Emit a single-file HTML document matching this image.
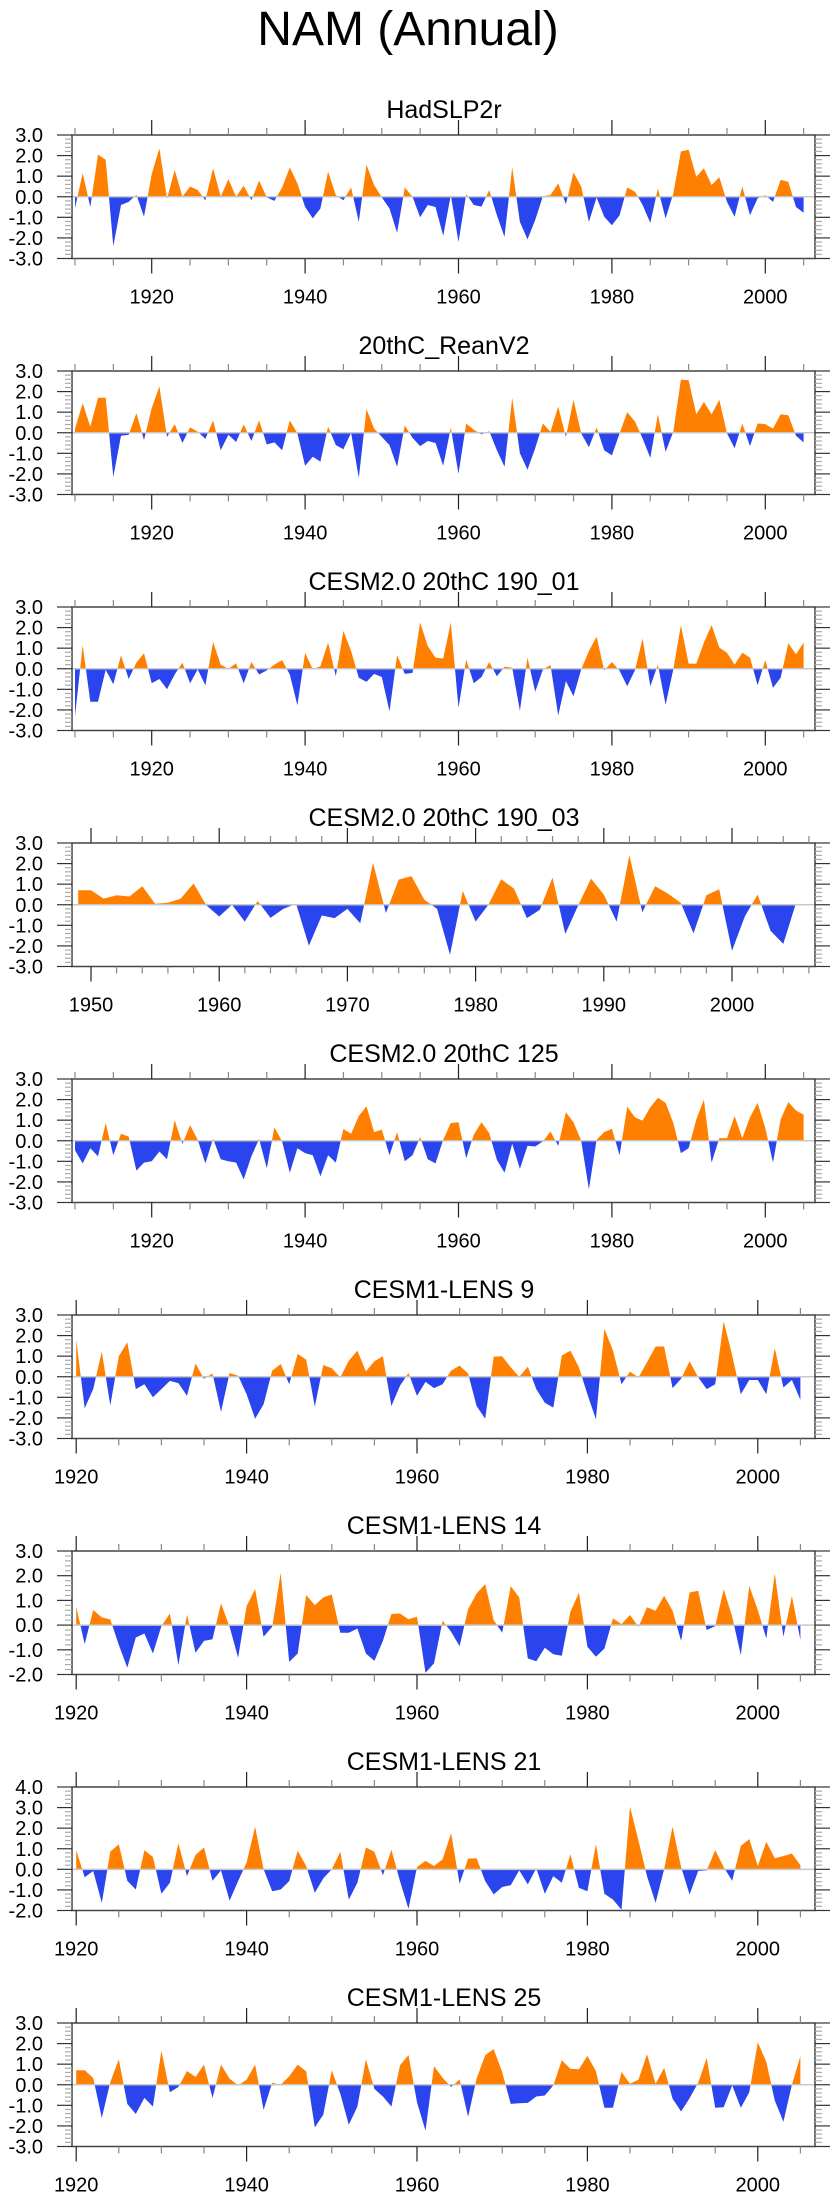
<!DOCTYPE html>
<html><head><meta charset="utf-8"><style>
html,body{margin:0;padding:0;background:#fff;}
svg{display:block;font-family:"Liberation Sans",sans-serif;}
</style></head>
<body>
<svg id="chart" width="840" height="2200" viewBox="0 0 840 2200" xmlns="http://www.w3.org/2000/svg">
<text x="408" y="45" text-anchor="middle" font-size="48" fill="#000">NAM (Annual)</text>
</svg>
<script>
const panelTitles = ["HadSLP2r","20thC_ReanV2","CESM2.0 20thC 190_01","CESM2.0 20thC 190_03","CESM2.0 20thC 125","CESM1-LENS 9","CESM1-LENS 14","CESM1-LENS 21","CESM1-LENS 25"];
const startYears = [1910,1910,1910,1949,1910,1920,1920,1920,1920];
const yMins = [-3,-3,-3,-3,-3,-3,-2,-2,-3];
const yMaxs = [3,3,3,3,3,3,3,4,3];
const hadslp2r = [-0.55,1.15,-0.5,2.05,1.8,-2.4,-0.4,-0.25,0.1,-0.97,1.1,2.35,-0.1,1.3,0,0.5,0.33,-0.17,1.38,0,0.85,0,0.53,-0.17,0.78,-0.03,-0.2,0.45,1.42,0.65,-0.5,-1.05,-0.57,1.22,0.08,-0.17,0.45,-1.22,1.55,0.57,-0.03,-0.57,-1.75,0.45,0,-1.0,-0.4,-0.5,-1.9,0.08,-2.2,0.13,-0.4,-0.48,0.33,-0.9,-1.95,1.43,-1.22,-2.07,-1.13,0.03,0.08,0.65,-0.36,1.18,0.5,-1.22,-0.03,-0.97,-1.38,-0.9,0.45,0.25,-0.4,-1.27,0.4,-1.05,0.16,2.2,2.28,0.97,1.38,0.57,0.95,-0.25,-0.97,0.5,-0.9,-0.08,0.08,-0.25,0.82,0.73,-0.5,-0.78];
const reanV2 = [0.2,1.43,0.3,1.7,1.7,-2.15,-0.15,-0.1,0.95,-0.35,1.2,2.25,-0.2,0.42,-0.5,0.26,0.05,-0.3,0.6,-0.85,-0.1,-0.45,0.4,-0.4,0.6,-0.57,-0.47,-0.85,0.6,-0.03,-1.6,-1.17,-1.4,0.3,-0.6,-0.8,0,-2.2,1.15,0.2,-0.2,-0.6,-1.65,0.35,-0.25,-0.65,-0.4,-0.5,-1.6,0.25,-2.0,0.45,0.15,-0.08,0.08,-0.85,-1.65,1.7,-1.0,-1.8,-0.75,0.45,0.05,1.27,-0.2,1.6,-0.03,-0.7,0.26,-0.85,-1.1,-0.03,1.0,0.55,-0.28,-1.22,0.9,-0.93,0.05,2.58,2.55,0.9,1.5,0.9,1.6,-0.03,-0.75,0.45,-0.65,0.45,0.42,0.2,0.9,0.85,-0.15,-0.47];
const cesm2_190_01 = [-2.3,1.15,-1.6,-1.6,-0.05,-0.75,0.65,-0.5,0.3,0.75,-0.7,-0.5,-1.0,-0.28,0.3,-0.7,-0.03,-0.8,1.3,0.2,0,0.26,-0.7,0.33,-0.28,-0.08,0.2,0.42,-0.28,-1.78,0.78,-0.03,0.13,1.27,-0.36,1.84,0.86,-0.44,-0.64,-0.25,-0.4,-2.07,0.67,-0.25,-0.2,2.25,1.1,0.54,0.5,2.25,-1.9,0.45,-0.7,-0.4,0.33,-0.36,0.1,0.05,-2.04,0.54,-1.12,-0.03,0.18,-2.27,-0.6,-1.34,-0.03,0.86,1.55,-0.08,0.33,-0.1,-0.85,-0.08,1.47,-0.85,0.2,-1.75,-0.03,2.12,0.25,0.25,1.27,2.12,1.03,0.78,0.2,0.78,0.54,-0.8,0.42,-0.93,-0.44,1.24,0.7,1.27];
const cesm2_190_03 = [0.7,0.7,0.3,0.46,0.4,0.9,0.05,0.1,0.3,1.03,-0.03,-0.57,0,-0.82,0.18,-0.64,-0.2,0.05,-1.99,-0.52,-0.65,-0.2,-0.9,2.04,-0.4,1.22,1.39,0.25,-0.2,-2.43,0.67,-0.82,0,1.24,0.78,-0.65,-0.25,1.32,-1.42,-0.03,1.27,0.5,-0.82,2.41,-0.36,0.9,0.54,0.1,-1.39,0.46,0.75,-2.23,-0.57,0.5,-1.26,-1.9,0.1];
const cesm2_125 = [-0.47,-1.1,-0.36,-0.75,0.86,-0.7,0.34,0.2,-1.45,-1.06,-1.0,-0.52,-0.9,1.0,-0.15,0.75,0.05,-1.1,0.1,-0.9,-1.0,-1.06,-1.88,-0.75,0.08,-1.34,0.65,-0.03,-1.55,-0.36,-0.6,-0.7,-1.72,-0.7,-1.06,0.57,0.34,1.2,1.68,0.42,0.54,-0.7,0.42,-1.0,-0.7,0.18,-0.9,-1.1,0.05,0.86,0.9,-0.85,0.3,0.9,0.37,-0.93,-1.55,-0.15,-1.37,-0.25,-0.28,-0.03,0.45,-0.25,1.38,0.9,0,-2.36,0.05,0.42,0.58,-0.7,1.65,1.14,0.98,1.63,2.09,1.84,0.86,-0.6,-0.36,1.03,2.0,-1.06,0.13,0.13,1.2,0.13,1.14,1.84,0.62,-1.06,1.03,1.88,1.47,1.27];
const lens9 = [1.81,-1.53,-0.6,1.22,-1.39,1.0,1.68,-0.6,-0.36,-1.0,-0.6,-0.2,-0.31,-0.93,0.65,-0.1,0.16,-1.71,0.18,0.05,-0.85,-2.04,-1.34,0.3,0.62,-0.36,1.11,0.83,-1.45,0.57,0.41,-0.03,0.78,1.27,0.26,0.75,1.0,-1.42,-0.44,0.18,-0.93,-0.25,-0.55,-0.36,0.3,0.54,0.16,-1.42,-2.04,0.98,1.0,0.46,0,0.49,-0.6,-1.26,-1.5,1.03,1.27,0.46,-0.85,-2.07,2.33,1.27,-0.36,0.25,-0.03,0.7,1.47,1.47,-0.55,-0.1,0.75,-0.03,-0.6,-0.36,2.7,1.03,-0.85,-0.16,-0.16,-0.85,1.39,-0.52,-0.16,-1.12];
const lens14 = [0.74,-0.77,0.61,0.31,0.23,-0.8,-1.72,-0.5,-0.34,-1.15,-0.04,0.47,-1.62,0.43,-1.12,-0.64,-0.57,0.88,-0.07,-1.32,0.77,1.46,-0.47,-0.07,2.12,-1.49,-1.15,1.22,0.81,1.12,1.24,-0.31,-0.31,-0.14,-1.15,-1.45,-0.64,0.45,0.47,0.24,0.34,-1.93,-1.55,0.18,-0.27,-0.85,0.64,1.28,1.66,0.2,-0.31,1.58,1.12,-1.35,-1.46,-0.92,-1.18,-1.24,0.54,1.31,-0.88,-1.28,-0.95,0.27,0.04,0.41,-0.07,0.72,0.58,1.19,0.58,-0.64,1.32,1.39,-0.2,-0.04,1.45,0.34,-1.22,1.58,0.61,-0.54,2.09,-0.47,1.18,-0.6];
const lens21 = [0.93,-0.38,-0.08,-1.63,0.86,1.22,-0.55,-0.98,0.93,0.6,-1.19,-0.65,1.27,-0.33,0.7,1.06,-0.55,-0.05,-1.52,-0.57,0.33,2.07,0,-1.06,-0.98,-0.57,0.9,0.16,-1.14,-0.44,0,0.85,-1.47,-0.65,1.06,0.85,-0.29,0.95,-0.57,-1.92,0.11,0.41,0.16,0.49,1.75,-0.7,0.52,0.54,-0.57,-1.22,-0.86,-0.77,-0.05,-0.73,0.05,-1.19,-0.33,-0.65,0.73,-0.9,-1.06,1.22,-1.19,-1.47,-1.96,3.05,1.39,-0.33,-1.63,0,2.07,0.11,-1.22,-0.08,-0.05,0.93,0.11,-0.55,1.14,1.47,0.16,1.34,0.54,0.65,0.77,0.2];
const lens25 = [0.7,0.7,0.33,-1.61,0.13,1.24,-0.93,-1.42,-0.64,-1.06,1.65,-0.36,-0.11,0.67,0.38,0.98,-0.64,0.98,0.3,-0.03,0.25,0.98,-1.22,0.1,0,0.41,0.98,0.65,-2.07,-1.45,0.7,-0.44,-1.94,-1.06,1.24,-0.2,-0.57,-1.06,0.95,1.44,-0.85,-2.23,0.9,0.34,-0.11,0.26,-1.55,0.3,1.44,1.73,0.62,-0.93,-0.9,-0.88,-0.57,-0.52,-0.03,1.19,0.78,0.75,1.4,0.67,-1.12,-1.12,0.62,0.05,0.25,1.48,0.05,0.82,-0.68,-1.3,-0.65,0.1,1.3,-1.12,-1.09,-0.03,-1.12,-0.36,2.06,1.11,-0.77,-1.8,0,1.39];
const seriesList = [hadslp2r, reanV2, cesm2_190_01, cesm2_190_03, cesm2_125, lens9, lens14, lens21, lens25];

const NS = "http://www.w3.org/2000/svg";
const svg = document.getElementById("chart");
const BOX_L = 72, BOX_R = 815, BOX_H = 123.5;
function mk(tag, attrs, parent) {
  const e = document.createElementNS(NS, tag);
  for (const k in attrs) e.setAttribute(k, attrs[k]);
  parent.appendChild(e);
  return e;
}
function xAxisFor(i) {
  if (startYears[i] === 1949) return { ref: 1950, x0: 91, px: 12.82, minorStep: 2, majorStep: 10, first: 1950, last: 2006 };
  if (startYears[i] === 1920) return { ref: 1920, x0: 76.2, px: 8.52, minorStep: 5, majorStep: 20, first: 1920, last: 2005 };
  return { ref: 1910, x0: 75, px: 7.67, minorStep: 5, majorStep: 20, first: 1910, last: 2005 };
}
seriesList.forEach((vals, i) => {
  const top = 135 + 236 * i, bot = top + BOX_H;
  const ymin = yMins[i], ymax = yMaxs[i];
  const ys = v => bot - (v - ymin) / (ymax - ymin) * BOX_H;
  const ax = xAxisFor(i);
  const xs = yr => ax.x0 + ax.px * (yr - ax.ref);
  const g = mk("g", {}, svg);
  
  
  const t = mk("text", { x: 444, y: top - 17, "text-anchor": "middle", "font-size": 25, fill: "#000" }, g);
  t.textContent = panelTitles[i];
  
  
  const defs = mk("defs", {}, g);
  const y0 = ys(0);
  const cpA = mk("clipPath", { id: "ca" + i }, defs);
  mk("rect", { x: BOX_L, y: top, width: BOX_R - BOX_L, height: y0 - top }, cpA);
  const cpB = mk("clipPath", { id: "cb" + i }, defs);
  mk("rect", { x: BOX_L, y: y0, width: BOX_R - BOX_L, height: bot - y0 }, cpB);
  let pts = xs(startYears[i]).toFixed(1) + "," + y0.toFixed(1);
  vals.forEach((v, k) => { pts += " " + xs(startYears[i] + k).toFixed(1) + "," + ys(v).toFixed(1); });
  pts += " " + xs(startYears[i] + vals.length - 1).toFixed(1) + "," + y0.toFixed(1);
  const pos = mk("polygon", { points: pts, fill: "#FF8000", "clip-path": "url(#ca" + i + ")" }, g);
  
  
  const neg = mk("polygon", { points: pts, fill: "#2A44EE", "clip-path": "url(#cb" + i + ")" }, g);
  
  
  const zl = mk("line", { x1: BOX_L, x2: BOX_R, y1: y0, y2: y0, stroke: "#c8c8c8", "stroke-width": 1.5 }, g);
  
  
  const fr = mk("rect", { x: BOX_L, y: top, width: BOX_R - BOX_L, height: BOX_H, fill: "none", stroke: "#444", "stroke-width": 1.5 }, g);
  
  
  for (let v = ymin; v <= ymax + 1e-6; v += 0.2) {
    const y = ys(v);
    const major = Math.abs(v - Math.round(v)) < 1e-6;
    const len = major ? 15 : 7, col = major ? "#333" : "#aaa";
    mk("line", { x1: BOX_L - len, x2: BOX_L, y1: y, y2: y, stroke: col, "stroke-width": 1.2 }, g);
    mk("line", { x1: BOX_R, x2: BOX_R + len, y1: y, y2: y, stroke: col, "stroke-width": 1.2 }, g);
    if (major) {
      const lb = mk("text", { x: 43, y: y + 7, "text-anchor": "end", "font-size": 20, fill: "#000" }, g);
      lb.textContent = Math.round(v).toFixed(1);
      
      
    }
  }
  for (let yr = ax.first; yr <= ax.last; yr += ax.minorStep) {
    const x = xs(yr);
    const major = yr % ax.majorStep === 0;
    const len = major ? 15 : 7, col = major ? "#222" : "#888";
    mk("line", { x1: x, x2: x, y1: top - len, y2: top, stroke: col, "stroke-width": 1.2 }, g);
    mk("line", { x1: x, x2: x, y1: bot, y2: bot + len, stroke: col, "stroke-width": 1.2 }, g);
    if (major) {
      const lb = mk("text", { x: x, y: bot + 45, "text-anchor": "middle", "font-size": 20, fill: "#000" }, g);
      lb.textContent = yr;
      
      
    }
  }
});
</script>
</body></html>
